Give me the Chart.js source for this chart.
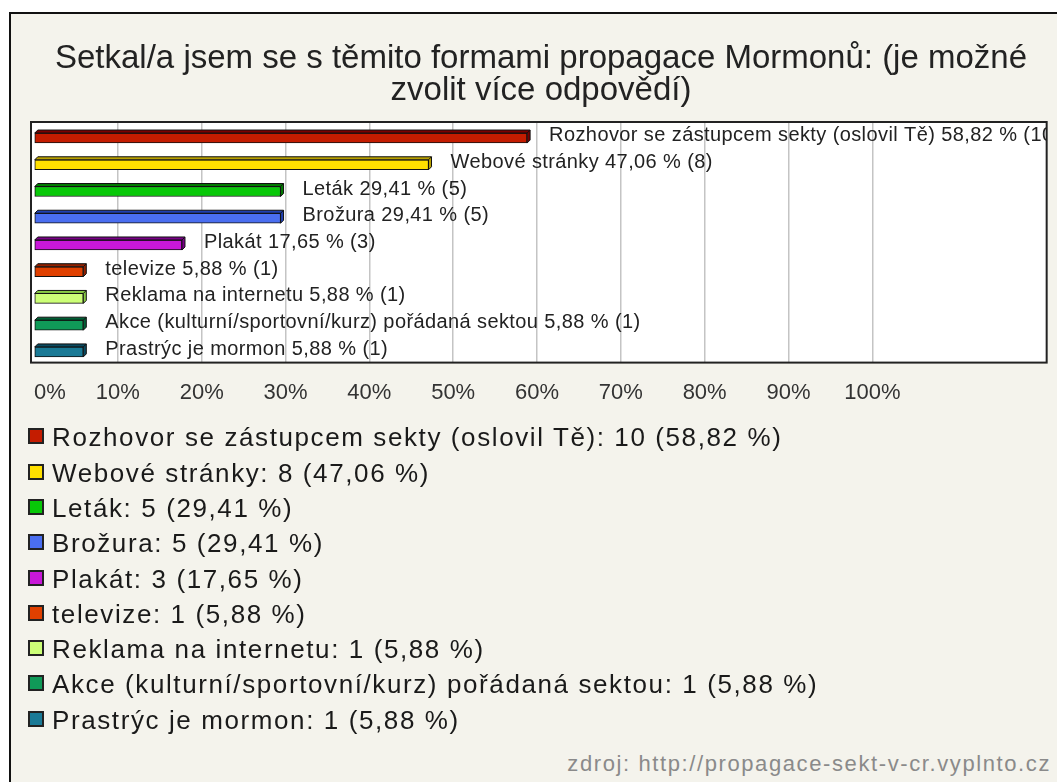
<!DOCTYPE html>
<html>
<head>
<meta charset="utf-8">
<script src="https://cdn.jsdelivr.net/npm/chart.js@4.4.0/dist/chart.umd.min.js"></script>
<style>
  body { margin: 0; background: #fff; width: 1057px; height: 782px; overflow: hidden; position: relative; font-family: "Liberation Sans", Arial, sans-serif; }
  #frame { position: absolute; left: 9px; top: 12px; width: 1100px; height: 800px; border: 2px solid #111; background: #f4f3ec; }
  #wrap { position: absolute; left: 0; top: 0; width: 1057px; height: 423px; }
  #legend { position: absolute; left: 28px; top: 420.4px; }
  .row { position: relative; height: 35.3px; width: 1000px; }
  .box { position: absolute; left: 0; top: 8px; width: 12px; height: 12px; border: 2px solid #222; }
  .txt { position: absolute; left: 24px; top: 0; line-height: 35.3px; font-size: 26px; letter-spacing: 1.6px; color: #1a1a1a; white-space: nowrap; }
  #source { position: absolute; right: 6px; top: 753px; font-size: 22px; line-height: 22px; letter-spacing: 1.6px; color: #8a8a8a; white-space: nowrap; }
</style>
</head>
<body>
<div id="frame"></div>
<div id="wrap"><canvas id="chart"></canvas></div>
<div id="legend"></div>
<div id="source">zdroj: http://propagace-sekt-v-cr.vyplnto.cz</div>
<script>
const titleLines = ['Setkal/a jsem se s těmito formami propagace Mormonů: (je možné', 'zvolit více odpovědí)'];
const categories = [
  'Rozhovor se zástupcem sekty (oslovil Tě)',
  'Webové stránky',
  'Leták',
  'Brožura',
  'Plakát',
  'televize',
  'Reklama na internetu',
  'Akce (kulturní/sportovní/kurz) pořádaná sektou',
  'Prastrýc je mormon'
];
const counts = [10, 8, 5, 5, 3, 1, 1, 1, 1];
const percents = [58.82, 47.06, 29.41, 29.41, 17.65, 5.88, 5.88, 5.88, 5.88];
const tickValues = [0, 10, 20, 30, 40, 50, 60, 70, 80, 90, 100];
const frontColors = ['#c41c00', '#ffe000', '#08c808', '#4a6ef0', '#c818d8', '#e04000', '#ccff77', '#109a58', '#1a7a96'];
const topColors = ['#7a0000', '#b8a000', '#007a00', '#2040b0', '#7a0088', '#902000', '#88cc44', '#006035', '#0a4a60'];

const FONT = '"Liberation Sans", Arial, sans-serif';
const fmt = v => v.toFixed(2).replace('.', ',');

// white plot area + dark frame around it
const plotBox = {
  id: 'plotBox',
  beforeDraw(chart) {
    const { ctx, chartArea: a } = chart;
    ctx.save();
    ctx.fillStyle = '#fff';
    ctx.fillRect(a.left, a.top, a.right - a.left, a.bottom - a.top);
    ctx.restore();
  },
  afterDraw(chart) {
    const { ctx, chartArea: a } = chart;
    ctx.save();
    ctx.strokeStyle = '#222';
    ctx.lineWidth = 2;
    ctx.strokeRect(a.left, a.top, a.right - a.left, a.bottom - a.top);
    ctx.restore();
  }
};

// fake 3d top/right faces and the value labels next to the bars
const bars3d = {
  id: 'bars3d',
  afterDatasetsDraw(chart) {
    const ctx = chart.ctx;
    const a = chart.chartArea;
    const meta = chart.getDatasetMeta(0);
    const d = 3;
    ctx.save();
    ctx.lineWidth = 1;
    ctx.strokeStyle = '#111';
    meta.data.forEach((bar, i) => {
      const p = bar.getProps(['x', 'y', 'base', 'height'], true);
      const top = p.y - p.height / 2, bot = p.y + p.height / 2;
      ctx.fillStyle = topColors[i];
      ctx.beginPath();
      ctx.moveTo(p.base, top);
      ctx.lineTo(p.base + d, top - d);
      ctx.lineTo(p.x + d, top - d);
      ctx.lineTo(p.x + d, bot - d);
      ctx.lineTo(p.x, bot);
      ctx.lineTo(p.x, top);
      ctx.closePath();
      ctx.fill();
      ctx.stroke();
      ctx.beginPath();
      ctx.moveTo(p.x, top);
      ctx.lineTo(p.x + d, top - d);
      ctx.stroke();
    });
    ctx.beginPath();
    ctx.rect(a.left, a.top, a.right - a.left, a.bottom - a.top);
    ctx.clip();
    ctx.font = '20px ' + FONT;
    ctx.letterSpacing = '0.4px';
    ctx.fillStyle = '#222';
    ctx.textBaseline = 'alphabetic';
    meta.data.forEach((bar, i) => {
      const label = categories[i] + ' ' + fmt(percents[i]) + ' % (' + counts[i] + ')';
      ctx.fillText(label, bar.x + 22, bar.y + 3);
    });
    ctx.restore();
  }
};

new Chart(document.getElementById('chart'), {
  type: 'bar',
  data: {
    datasets: [{
      data: percents.map((p, i) => ({ x: p, y: i })),
      backgroundColor: frontColors,
      borderColor: '#111',
      borderWidth: 1,
      borderSkipped: false,
      barThickness: 10
    }]
  },
  options: {
    indexAxis: 'y',
    responsive: true,
    maintainAspectRatio: false,
    animation: false,
    layout: { padding: { left: 31, right: 6, top: 0, bottom: 0 } },
    scales: {
      x: {
        type: 'linear',
        min: -0.36,
        max: 120.8,
        afterBuildTicks: s => { s.ticks = tickValues.concat([120]).map(v => ({ value: v })); },
        grid: {
          color: c => (c.tick && (c.tick.value > 100 || c.tick.value === 0)) ? 'rgba(0,0,0,0)' : '#c4c4c4',
          lineWidth: 1.5,
          drawTicks: false
        },
        border: { display: false },
        ticks: {
          align: 'inner',
          padding: 17,
          color: '#333',
          font: { size: 22, family: FONT },
          callback: v => v > 100 ? '' : v + '%'
        }
      },
      y: { type: 'linear', reverse: true, offset: false, min: -0.6, max: 8.4, display: false }
    },
    plugins: {
      legend: { display: false },
      tooltip: { enabled: false },
      title: {
        display: true,
        text: titleLines,
        color: '#222',
        font: { size: 33, family: FONT, weight: 'normal', lineHeight: 32 / 33 },
        padding: { top: 43, bottom: 15 }
      }
    }
  },
  plugins: [plotBox, bars3d]
});

// legend list below the chart
const legend = document.getElementById('legend');
categories.forEach((c, i) => {
  const row = document.createElement('div');
  row.className = 'row';
  const box = document.createElement('div');
  box.className = 'box';
  box.style.background = frontColors[i];
  const txt = document.createElement('div');
  txt.className = 'txt';
  txt.textContent = c + ': ' + counts[i] + ' (' + fmt(percents[i]) + ' %)';
  row.appendChild(box);
  row.appendChild(txt);
  legend.appendChild(row);
});
</script>
</body>
</html>
